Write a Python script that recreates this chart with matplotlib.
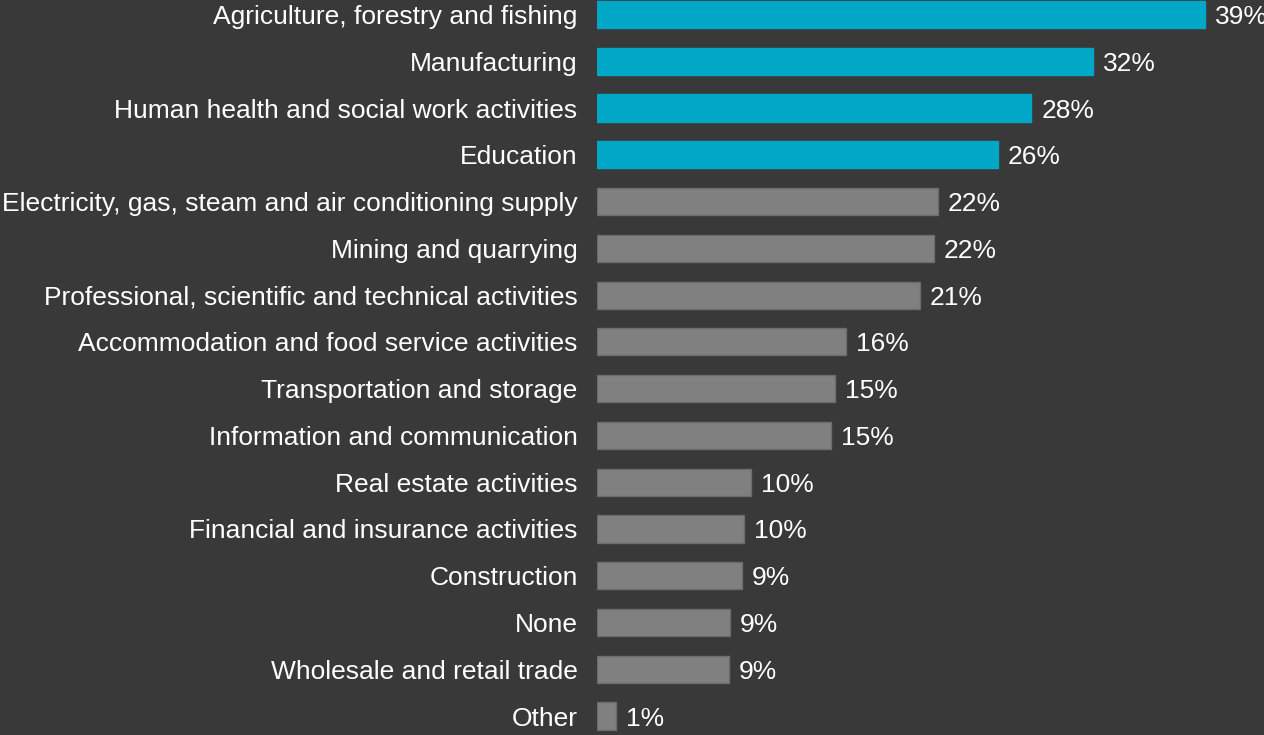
import matplotlib.pyplot as plt

# Sectors and their shares (%)
sectors = [
    'Agriculture, forestry and fishing',
    'Manufacturing',
    'Human health and social work activities',
    'Education',
    'Electricity, gas, steam and air conditioning supply',
    'Mining and quarrying',
    'Professional, scientific and technical activities',
    'Accommodation and food service activities',
    'Transportation and storage',
    'Information and communication',
    'Real estate activities',
    'Financial and insurance activities',
    'Construction',
    'None',
    'Wholesale and retail trade',
    'Other',
]
shares = [39.35, 32.1, 28.1, 25.95, 22.07, 21.8, 20.9, 16.1, 15.4, 15.15,
          9.97, 9.51, 9.39, 8.62, 8.53, 1.23]
highlighted = 4  # first four bars in teal

bg = '#393939'
teal = '#00a7c7'
grey = '#808080'

plt.rcParams['font.family'] = ['Liberation Sans', 'DejaVu Sans']

fig = plt.figure(figsize=(12.64, 7.35), dpi=100, facecolor=bg)
left = 597 / 1264
ax = fig.add_axes([left, 0, 1 - left, 1])
ax.set_facecolor(bg)

pos = list(range(len(sectors)))
colors = [teal if i < highlighted else grey for i in pos]
edges = [teal if i < highlighted else '#6c6c6c' for i in pos]
ax.barh(pos, shares, height=0.58, color=colors, edgecolor=edges, linewidth=1)

for y, v in zip(pos, shares):
    ax.text(v + 0.65, y, f'{v:.0f}%', va='center_baseline', ha='left',
            color='white', fontsize=19)

ax.set_yticks(pos)
ax.set_yticklabels(sectors, fontsize=19, color='white', va='center_baseline')
ax.tick_params(axis='y', length=0, pad=14)
ax.set_xticks([])
ax.set_xlim(0, 43.17)
ax.set_ylim(15.406, -0.31)
for s in ax.spines.values():
    s.set_visible(False)

fig.savefig('out.png', dpi=100, facecolor=bg)
